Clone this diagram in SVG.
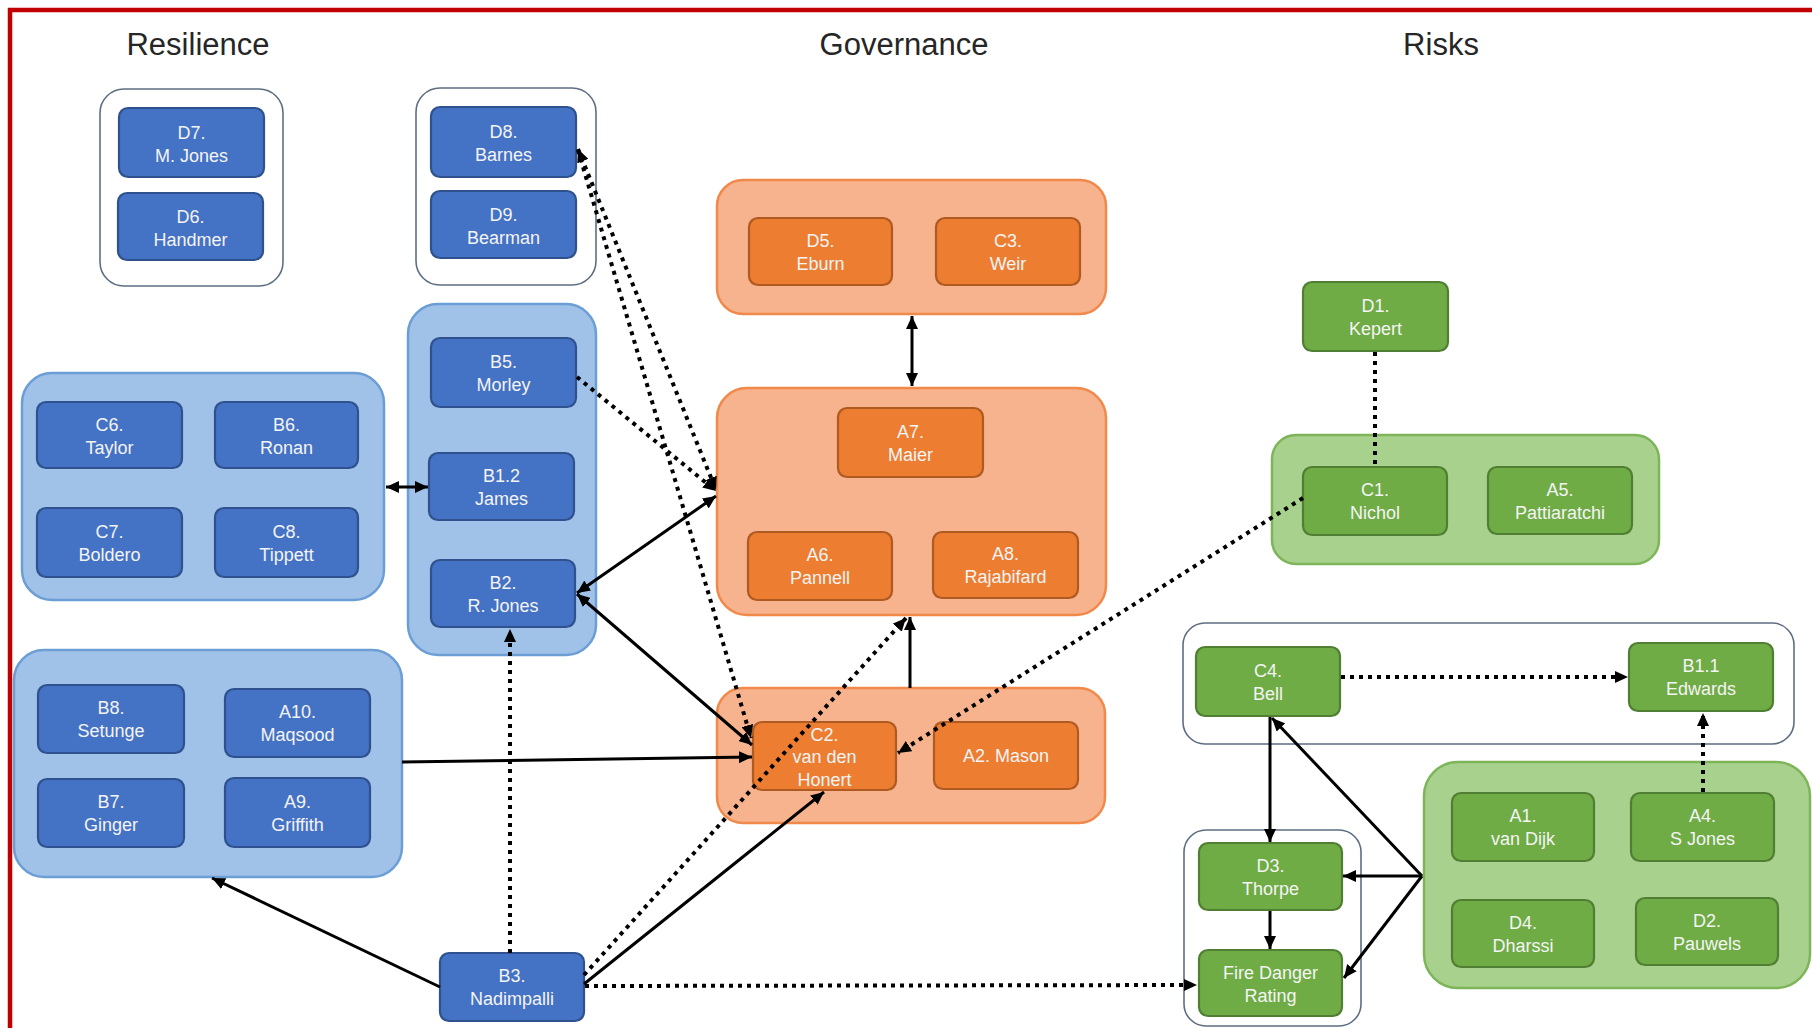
<svg xmlns="http://www.w3.org/2000/svg" width="1812" height="1028" viewBox="0 0 1812 1028">
<style>
.t{font-family:"Liberation Sans",Arial,sans-serif;font-size:18px;fill:#F4F4F4;text-anchor:middle}
.h{font-family:"Liberation Sans",Arial,sans-serif;font-size:31px;fill:#262626;text-anchor:middle}
.wg{fill:#FFFFFF;stroke:#5E6E82;stroke-width:1.6}
.bg{fill:#A0C1E8;stroke:#6C9ED6;stroke-width:2.5}
.og{fill:#F6B38E;stroke:#F0894A;stroke-width:2.5}
.gg{fill:#A9D18E;stroke:#7DB558;stroke-width:2.5}
.bn{fill:#4472C4;stroke:#2F528F;stroke-width:2.2}
.on{fill:#ED7D31;stroke:#AE5A21;stroke-width:2.2}
.gn{fill:#6FAC46;stroke:#507E32;stroke-width:2.2}
.s{fill:none;stroke:#000;stroke-width:3}
.d{fill:none;stroke:#000;stroke-width:4;stroke-dasharray:4 5}
</style>
<defs>
<marker id="ah" markerUnits="userSpaceOnUse" markerWidth="14" markerHeight="12" refX="13" refY="6" orient="auto-start-reverse">
<path d="M0,0 L13,6 L0,12 z" fill="#000"/>
</marker>
</defs>
<rect width="1812" height="1028" fill="#FFFFFF"/>
<g id="border">
<line x1="8" y1="10" x2="1812" y2="10" stroke="#C00000" stroke-width="4.5"/>
<line x1="10" y1="8" x2="10" y2="1028" stroke="#C00000" stroke-width="4.5"/>
</g>
<g id="titles">
<text class="h" x="198" y="55">Resilience</text>
<text class="h" x="904" y="55">Governance</text>
<text class="h" x="1441" y="55">Risks</text>
</g>
<g id="groups">
<rect id="gw1" class="wg" x="100" y="89" width="183" height="197" rx="24"/>
<rect id="gw2" class="wg" x="416" y="88" width="180" height="197" rx="24"/>
<rect id="gl1" class="bg" x="22" y="373" width="362" height="227" rx="30"/>
<rect id="gm" class="bg" x="408" y="304" width="188" height="351" rx="30"/>
<rect id="gl2" class="bg" x="14" y="650" width="388" height="227" rx="30"/>
<rect id="go1" class="og" x="717" y="180" width="389" height="134" rx="26"/>
<rect id="go2" class="og" x="717" y="388" width="389" height="227" rx="30"/>
<rect id="go3" class="og" x="717" y="688" width="388" height="135" rx="26"/>
<rect id="gg1" class="gg" x="1272" y="435" width="387" height="129" rx="24"/>
<rect id="gw3" class="wg" x="1183" y="623" width="611" height="121" rx="22"/>
<rect id="gw4" class="wg" x="1184" y="830" width="177" height="196" rx="22"/>
<rect id="gg2" class="gg" x="1424" y="762" width="386" height="226" rx="34"/>
</g>
<g id="D7"><rect class="bn" x="119" y="108" width="145" height="69" rx="9"/><text class="t" x="191.5" y="139">D7.</text><text class="t" x="191.5" y="162">M. Jones</text></g>
<g id="D6"><rect class="bn" x="118" y="193" width="145" height="67" rx="9"/><text class="t" x="190.5" y="223">D6.</text><text class="t" x="190.5" y="246">Handmer</text></g>
<g id="D8"><rect class="bn" x="431" y="107" width="145" height="70" rx="9"/><text class="t" x="503.5" y="138">D8.</text><text class="t" x="503.5" y="161">Barnes</text></g>
<g id="D9"><rect class="bn" x="431" y="191" width="145" height="67" rx="9"/><text class="t" x="503.5" y="221">D9.</text><text class="t" x="503.5" y="244">Bearman</text></g>
<g id="C6"><rect class="bn" x="37" y="402" width="145" height="66" rx="9"/><text class="t" x="109.5" y="431">C6.</text><text class="t" x="109.5" y="454">Taylor</text></g>
<g id="B6"><rect class="bn" x="215" y="402" width="143" height="66" rx="9"/><text class="t" x="286.5" y="431">B6.</text><text class="t" x="286.5" y="454">Ronan</text></g>
<g id="C7"><rect class="bn" x="37" y="508" width="145" height="69" rx="9"/><text class="t" x="109.5" y="538">C7.</text><text class="t" x="109.5" y="561">Boldero</text></g>
<g id="C8"><rect class="bn" x="215" y="508" width="143" height="69" rx="9"/><text class="t" x="286.5" y="538">C8.</text><text class="t" x="286.5" y="561">Tippett</text></g>
<g id="B5"><rect class="bn" x="431" y="338" width="145" height="69" rx="9"/><text class="t" x="503.5" y="368">B5.</text><text class="t" x="503.5" y="391">Morley</text></g>
<g id="B1.2"><rect class="bn" x="429" y="453" width="145" height="67" rx="9"/><text class="t" x="501.5" y="482">B1.2</text><text class="t" x="501.5" y="505">James</text></g>
<g id="B2"><rect class="bn" x="431" y="560" width="144" height="67" rx="9"/><text class="t" x="503" y="589">B2.</text><text class="t" x="503" y="612">R. Jones</text></g>
<g id="B8"><rect class="bn" x="38" y="685" width="146" height="68" rx="9"/><text class="t" x="111" y="714">B8.</text><text class="t" x="111" y="737">Setunge</text></g>
<g id="A10"><rect class="bn" x="225" y="689" width="145" height="68" rx="9"/><text class="t" x="297.5" y="718">A10.</text><text class="t" x="297.5" y="741">Maqsood</text></g>
<g id="B7"><rect class="bn" x="38" y="779" width="146" height="68" rx="9"/><text class="t" x="111" y="808">B7.</text><text class="t" x="111" y="831">Ginger</text></g>
<g id="A9"><rect class="bn" x="225" y="778" width="145" height="69" rx="9"/><text class="t" x="297.5" y="808">A9.</text><text class="t" x="297.5" y="831">Griffith</text></g>
<g id="B3"><rect class="bn" x="440" y="953" width="144" height="68" rx="9"/><text class="t" x="512" y="982">B3.</text><text class="t" x="512" y="1005">Nadimpalli</text></g>
<g id="D5"><rect class="on" x="749" y="218" width="143" height="67" rx="9"/><text class="t" x="820.5" y="247">D5.</text><text class="t" x="820.5" y="270">Eburn</text></g>
<g id="C3"><rect class="on" x="936" y="218" width="144" height="67" rx="9"/><text class="t" x="1008" y="247">C3.</text><text class="t" x="1008" y="270">Weir</text></g>
<g id="A7"><rect class="on" x="838" y="408" width="145" height="69" rx="9"/><text class="t" x="910.5" y="438">A7.</text><text class="t" x="910.5" y="461">Maier</text></g>
<g id="A6"><rect class="on" x="748" y="532" width="144" height="68" rx="9"/><text class="t" x="820" y="561">A6.</text><text class="t" x="820" y="584">Pannell</text></g>
<g id="A8"><rect class="on" x="933" y="532" width="145" height="66" rx="9"/><text class="t" x="1005.5" y="560">A8.</text><text class="t" x="1005.5" y="583">Rajabifard</text></g>
<g id="C2"><rect class="on" x="753" y="722" width="143" height="68" rx="9"/><text class="t" x="824.5" y="741">C2.</text><text class="t" x="824.5" y="763">van den</text><text class="t" x="824.5" y="786">Honert</text></g>
<g id="A2"><rect class="on" x="934" y="722" width="144" height="67" rx="9"/><text class="t" x="1006" y="762">A2. Mason</text></g>
<g id="D1"><rect class="gn" x="1303" y="282" width="145" height="69" rx="9"/><text class="t" x="1375.5" y="312">D1.</text><text class="t" x="1375.5" y="335">Kepert</text></g>
<g id="C1"><rect class="gn" x="1303" y="467" width="144" height="68" rx="9"/><text class="t" x="1375" y="496">C1.</text><text class="t" x="1375" y="519">Nichol</text></g>
<g id="A5"><rect class="gn" x="1488" y="467" width="144" height="67" rx="9"/><text class="t" x="1560" y="496">A5.</text><text class="t" x="1560" y="519">Pattiaratchi</text></g>
<g id="C4"><rect class="gn" x="1196" y="647" width="144" height="69" rx="9"/><text class="t" x="1268" y="677">C4.</text><text class="t" x="1268" y="700">Bell</text></g>
<g id="B1.1"><rect class="gn" x="1629" y="643" width="144" height="68" rx="9"/><text class="t" x="1701" y="672">B1.1</text><text class="t" x="1701" y="695">Edwards</text></g>
<g id="A1"><rect class="gn" x="1452" y="793" width="142" height="68" rx="9"/><text class="t" x="1523" y="822">A1.</text><text class="t" x="1523" y="845">van Dijk</text></g>
<g id="A4"><rect class="gn" x="1631" y="793" width="143" height="68" rx="9"/><text class="t" x="1702.5" y="822">A4.</text><text class="t" x="1702.5" y="845">S Jones</text></g>
<g id="D4"><rect class="gn" x="1452" y="900" width="142" height="67" rx="9"/><text class="t" x="1523" y="929">D4.</text><text class="t" x="1523" y="952">Dharssi</text></g>
<g id="D2"><rect class="gn" x="1636" y="898" width="142" height="67" rx="9"/><text class="t" x="1707" y="927">D2.</text><text class="t" x="1707" y="950">Pauwels</text></g>
<g id="D3"><rect class="gn" x="1199" y="843" width="143" height="67" rx="9"/><text class="t" x="1270.5" y="872">D3.</text><text class="t" x="1270.5" y="895">Thorpe</text></g>
<g id="FDR"><rect class="gn" x="1199" y="950" width="143" height="66" rx="9"/><text class="t" x="1270.5" y="979">Fire Danger</text><text class="t" x="1270.5" y="1002">Rating</text></g>
<g id="connectors">
<line class="s" x1="912" y1="316" x2="912" y2="386" marker-start="url(#ah)" marker-end="url(#ah)"/>
<line class="s" x1="386" y1="487" x2="428" y2="487" marker-start="url(#ah)" marker-end="url(#ah)"/>
<line class="s" x1="577" y1="593" x2="716" y2="496" marker-start="url(#ah)" marker-end="url(#ah)"/>
<line class="s" x1="577" y1="594" x2="752" y2="745" marker-start="url(#ah)" marker-end="url(#ah)"/>
<line class="s" x1="402" y1="762" x2="752" y2="757" marker-end="url(#ah)"/>
<line class="s" x1="440" y1="987" x2="212" y2="878" marker-end="url(#ah)"/>
<line class="d" x1="510" y1="953" x2="510" y2="629" marker-end="url(#ah)"/>
<line class="s" x1="584" y1="984" x2="824" y2="792" marker-end="url(#ah)"/>
<line class="d" x1="584" y1="975" x2="906" y2="618" marker-end="url(#ah)"/>
<line class="s" x1="910" y1="688" x2="910" y2="617" marker-end="url(#ah)"/>
<line class="d" x1="585" y1="986" x2="1197" y2="985" marker-end="url(#ah)"/>
<line class="d" x1="577" y1="377" x2="716" y2="491" marker-end="url(#ah)"/>
<line class="d" x1="578" y1="149" x2="716" y2="490" marker-start="url(#ah)" marker-end="url(#ah)"/>
<line class="d" x1="578" y1="150" x2="751" y2="738" marker-end="url(#ah)"/>
<line class="d" x1="1303" y1="498" x2="898" y2="753" marker-end="url(#ah)"/>
<line class="d" x1="1375" y1="352" x2="1375" y2="466"/>
<line class="d" x1="1341" y1="677" x2="1628" y2="677" marker-end="url(#ah)"/>
<line class="d" x1="1703" y1="792" x2="1703" y2="713" marker-end="url(#ah)"/>
<line class="s" x1="1270" y1="717" x2="1270" y2="842" marker-end="url(#ah)"/>
<line class="s" x1="1270" y1="911" x2="1270" y2="949" marker-end="url(#ah)"/>
<line class="s" x1="1422" y1="876" x2="1272" y2="718" marker-end="url(#ah)"/>
<line class="s" x1="1422" y1="876" x2="1343" y2="876" marker-end="url(#ah)"/>
<line class="s" x1="1422" y1="876" x2="1344" y2="978" marker-end="url(#ah)"/>
</g>
</svg>
